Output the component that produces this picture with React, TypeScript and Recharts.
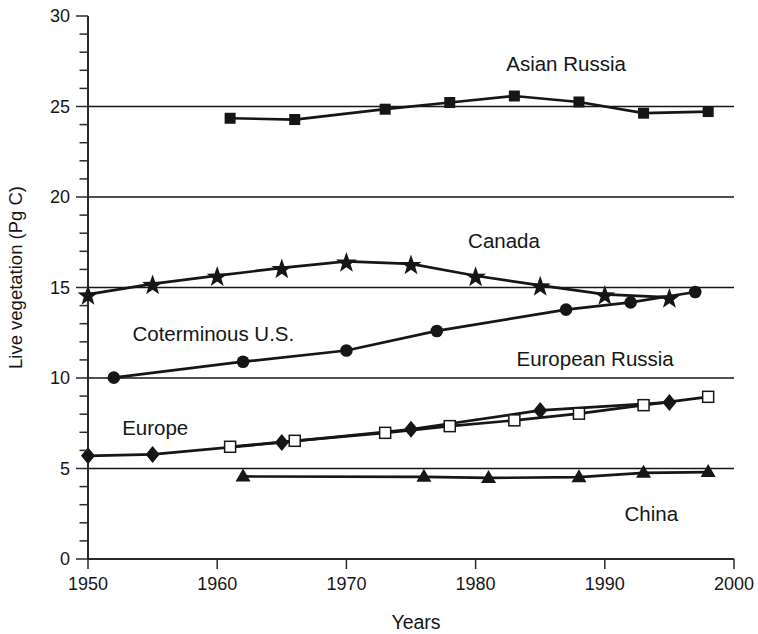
import React from 'react';
import { LineChart, Line, XAxis, YAxis, ReferenceLine, ReferenceDot, Label } from 'recharts';

const FONT = '"Liberation Sans", Arial, Helvetica, sans-serif';

const asianRussiaYears = [1961, 1966, 1973, 1978, 1983, 1988, 1993, 1998];
const asianRussiaValues = [24.35, 24.28, 24.85, 25.22, 25.58, 25.25, 24.63, 24.72];

const canadaYears = [1950, 1955, 1960, 1965, 1970, 1975, 1980, 1985, 1990, 1995];
const canadaValues = [14.62, 15.2, 15.66, 16.08, 16.44, 16.3, 15.65, 15.12, 14.62, 14.45];

const usYears = [1952, 1962, 1970, 1977, 1987, 1992, 1997];
const usValues = [10.02, 10.9, 11.52, 12.6, 13.78, 14.18, 14.75];

const europeYears = [1950, 1955, 1965, 1975, 1985, 1995];
const europeValues = [5.7, 5.78, 6.44, 7.17, 8.21, 8.65];

const euroRussiaYears = [1961, 1966, 1973, 1978, 1983, 1988, 1993, 1998];
const euroRussiaValues = [6.2, 6.53, 6.97, 7.34, 7.66, 8.03, 8.5, 8.96];

const chinaYears = [1962, 1976, 1981, 1988, 1993, 1998];
const chinaValues = [4.56, 4.54, 4.48, 4.52, 4.76, 4.8];

const xTicks = [1950, 1960, 1970, 1980, 1990, 2000];
const yTicks = Array.from({ length: 31 }, (_, i) => i);
const gridValues = [5, 10, 15, 20, 25];

const labelTexts = ['Asian Russia', 'Canada', 'Coterminous U.S.', 'European Russia', 'Europe', 'China'];
const labelYears = [1987.0, 1982.2, 1959.7, 1989.25, 1955.2, 1993.6];
const labelValues = [27.38, 17.58, 12.42, 11.05, 7.24, 2.5];

const toData = (xs: number[], ys: number[]) => xs.map((x, i) => ({ x, y: ys[i] }));

const INK = '#161616';

const SquareDot = (p: any) => (
  <rect key={p.key} x={p.cx - 5.5} y={p.cy - 5.5} width={11} height={11} fill={INK} />
);
const OpenSquareDot = (p: any) => (
  <rect key={p.key} x={p.cx - 5.5} y={p.cy - 5.5} width={11} height={11} fill="#fff" stroke={INK} strokeWidth={1.5} />
);
const CircleDot = (p: any) => <circle key={p.key} cx={p.cx} cy={p.cy} r={6.3} fill={INK} />;
const DiamondDot = (p: any) => (
  <polygon
    key={p.key}
    points={`${p.cx},${p.cy - 8.5} ${p.cx + 7},${p.cy} ${p.cx},${p.cy + 8.5} ${p.cx - 7},${p.cy}`}
    fill={INK}
  />
);
const TriangleDot = (p: any) => (
  <polygon
    key={p.key}
    points={`${p.cx},${p.cy - 8} ${p.cx + 7.5},${p.cy + 5} ${p.cx - 7.5},${p.cy + 5}`}
    fill={INK}
  />
);
const StarDot = (p: any) => {
  const pts: string[] = [];
  for (let i = 0; i < 10; i++) {
    const r = i % 2 === 0 ? 11 : 4.4;
    const a = -Math.PI / 2 + (i * Math.PI) / 5;
    pts.push(`${p.cx + r * Math.cos(a)},${p.cy + 1.5 + r * Math.sin(a)}`);
  }
  return <polygon key={p.key} points={pts.join(' ')} fill={INK} />;
};

const YTick = (p: any) => {
  const v = p.payload.value;
  const major = v % 5 === 0;
  return (
    <g>
      <line x1={p.x} y1={p.y} x2={p.x - (major ? 12 : 8.5)} y2={p.y} stroke="#2a2a2a" strokeWidth={1.5} />
      {major && (
        <text x={p.x - 18} y={p.y} dy="0.36em" textAnchor="end" fontSize={18} fill={INK} fontFamily={FONT}>
          {v}
        </text>
      )}
    </g>
  );
};

const series = [
  { data: toData(asianRussiaYears, asianRussiaValues), dot: SquareDot, name: 'asianRussia' },
  { data: toData(canadaYears, canadaValues), dot: StarDot, name: 'canada' },
  { data: toData(usYears, usValues), dot: CircleDot, name: 'us' },
  { data: toData(europeYears, europeValues), dot: DiamondDot, name: 'europe' },
  { data: toData(euroRussiaYears, euroRussiaValues), dot: OpenSquareDot, name: 'euroRussia' },
  { data: toData(chinaYears, chinaValues), dot: TriangleDot, name: 'china' },
];

export default function App() {
  return (
    <div style={{ position: 'absolute', left: 0, top: 0, background: '#fff' }}>
      <LineChart width={758} height={634} margin={{ top: 16, right: 24, bottom: 0, left: 0 }}>
        <XAxis
          type="number"
          dataKey="x"
          domain={[1950, 2000]}
          ticks={xTicks}
          interval={0}
          height={75}
          tickSize={10}
          tickMargin={8}
          allowDuplicatedCategory={false}
          axisLine={{ stroke: '#2a2a2a', strokeWidth: 2 }}
          tickLine={{ stroke: '#2a2a2a', strokeWidth: 1.5 }}
          tick={{ fill: INK, fontSize: 18, fontFamily: FONT }}
        >
          <Label
            content={(lp: any) => {
              const vb = lp.viewBox;
              return (
                <text x={vb.x + vb.width / 2 + 5} y={vb.y + 63} dy="0.36em" textAnchor="middle" fontSize={19.5} fill={INK} fontFamily={FONT}>
                  Years
                </text>
              );
            }}
          />
        </XAxis>
        <YAxis
          type="number"
          dataKey="y"
          domain={[0, 30]}
          ticks={yTicks}
          interval={0}
          width={88}
          tickSize={0}
          tickMargin={0}
          tickLine={false}
          axisLine={{ stroke: '#2a2a2a', strokeWidth: 2 }}
          tick={<YTick />}
        >
          <Label
            content={(lp: any) => {
              const vb = lp.viewBox;
              const cx = vb.x + 15;
              const cy = vb.y + vb.height / 2 - 10;
              return (
                <text x={cx} y={cy} dy="0.36em" textAnchor="middle" fontSize={18.5} fill={INK} fontFamily={FONT} transform={`rotate(-90 ${cx} ${cy})`}>
                  Live vegetation (Pg C)
                </text>
              );
            }}
          />
        </YAxis>
        {gridValues.map((g) => (
          <ReferenceLine key={g} y={g} stroke={INK} strokeWidth={1.3} />
        ))}
        {series.map((s) => (
          <Line
            key={s.name}
            data={s.data}
            dataKey="y"
            type="linear"
            stroke={INK}
            strokeWidth={2.7}
            dot={s.dot}
            activeDot={false}
            isAnimationActive={false}
          />
        ))}
        {labelTexts.map((t, i) => (
          <ReferenceDot
            key={t}
            x={labelYears[i]}
            y={labelValues[i]}
            r={0}
            fill="none"
            stroke="none"
            label={{ value: t, position: 'center', fontSize: 20.5, fill: INK, fontFamily: FONT }}
          />
        ))}
      </LineChart>
    </div>
  );
}
